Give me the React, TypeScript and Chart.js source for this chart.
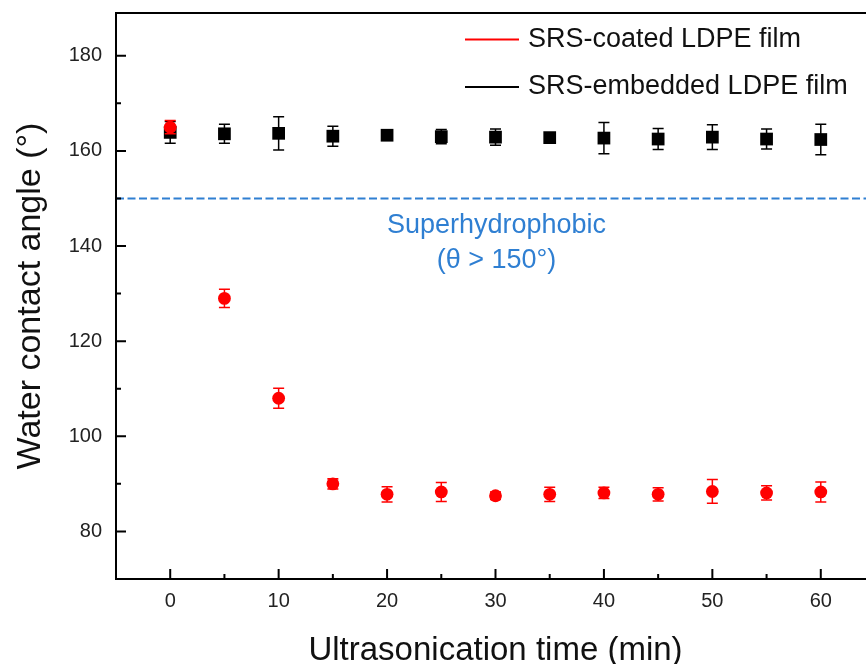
import React, { useEffect, useRef } from "react";
import { Chart, registerables } from "chart.js";

Chart.register(...registerables);

// ---- data ----
const times = [0, 5, 10, 15, 20, 25, 30, 35, 40, 45, 50, 55, 60];
const coatedAngle = [165.0, 129.0, 108.0, 90.0, 87.8, 88.3, 87.5, 87.8, 88.1, 87.8, 88.4, 88.1, 88.3];
const coatedErr = [1.4, 1.9, 2.1, 1.1, 1.6, 2.0, 0.8, 1.5, 1.2, 1.4, 2.5, 1.5, 2.1];
const embeddedAngle = [163.9, 163.6, 163.7, 163.1, 163.3, 163.0, 162.9, 162.8, 162.7, 162.5, 162.9, 162.5, 162.4];
const embeddedErr = [2.3, 2.0, 3.5, 2.1, 0.6, 1.5, 1.7, 0.5, 3.3, 2.2, 2.6, 2.1, 3.2];
const xTickValues = [0, 10, 20, 30, 40, 50, 60];
const yTickValues = [80, 100, 120, 140, 160, 180];
const xRange = [-5, 65];
const yRange = [70, 189];
const thresholdValue = 150;
const seriesNames = ["SRS-coated LDPE film", "SRS-embedded LDPE film"];
const annotationLines = ["Superhydrophobic", "(\u03b8 > 150\u00b0)"];

const RED = "#ff0000";
const BLACK = "#000000";
const BLUE = "#2f7fd2";
const FONT = "'Liberation Sans', Arial, Helvetica, sans-serif";

const CANVAS_W = 900;
const CANVAS_H = 680;

function midpoints(arr: number[]) {
  const out: number[] = [];
  for (let i = 0; i < arr.length - 1; i++) out.push((arr[i] + arr[i + 1]) / 2);
  return out;
}

const errorBarPlugin = {
  id: "errorBars",
  beforeDatasetDraw(chart: any, args: any) {
    const i = args.index;
    if (i > 1) return;
    const vals = i === 0 ? coatedAngle : embeddedAngle;
    const errs = i === 0 ? coatedErr : embeddedErr;
    const color = i === 0 ? RED : BLACK;
    const ctx = chart.ctx;
    const xs = chart.scales.x;
    const ys = chart.scales.y;
    ctx.save();
    ctx.strokeStyle = color;
    ctx.lineWidth = 1.5;
    times.forEach((t, k) => {
      const x = xs.getPixelForValue(t);
      const y1 = ys.getPixelForValue(vals[k] + errs[k]);
      const y2 = ys.getPixelForValue(vals[k] - errs[k]);
      const cw = 5.5;
      ctx.beginPath();
      ctx.moveTo(x, y1);
      ctx.lineTo(x, y2);
      ctx.moveTo(x - cw, y1);
      ctx.lineTo(x + cw, y1);
      ctx.moveTo(x - cw, y2);
      ctx.lineTo(x + cw, y2);
      ctx.stroke();
    });
    ctx.restore();
  },
};

const framePlugin = {
  id: "frameTicks",
  afterDraw(chart: any) {
    const ctx = chart.ctx;
    const { left, right, top, bottom } = chart.chartArea;
    const xs = chart.scales.x;
    const ys = chart.scales.y;
    ctx.save();
    ctx.strokeStyle = "#000";
    ctx.lineWidth = 2;
    ctx.strokeRect(left, top, right - left, bottom - top);
    ctx.beginPath();
    for (const v of xTickValues) {
      const x = xs.getPixelForValue(v);
      ctx.moveTo(x, bottom);
      ctx.lineTo(x, bottom - 10);
    }
    for (const v of midpoints(xTickValues)) {
      const x = xs.getPixelForValue(v);
      ctx.moveTo(x, bottom);
      ctx.lineTo(x, bottom - 5);
    }
    for (const v of yTickValues) {
      const y = ys.getPixelForValue(v);
      ctx.moveTo(left, y);
      ctx.lineTo(left + 10, y);
    }
    for (const v of midpoints(yTickValues)) {
      const y = ys.getPixelForValue(v);
      ctx.moveTo(left, y);
      ctx.lineTo(left + 5, y);
    }
    ctx.stroke();

    // legend
    const legendColors = [RED, BLACK];
    const legendY = [39.5, 87];
    ctx.font = `27px ${FONT}`;
    ctx.textBaseline = "middle";
    ctx.textAlign = "left";
    seriesNames.forEach((name, i) => {
      ctx.strokeStyle = legendColors[i];
      ctx.lineWidth = 2;
      ctx.beginPath();
      ctx.moveTo(465, legendY[i]);
      ctx.lineTo(519, legendY[i]);
      ctx.stroke();
      ctx.fillStyle = "#111";
      ctx.fillText(name, 528, legendY[i]);
    });

    // annotation
    const cx = (left + right) / 2 + 1;
    const y0 = ys.getPixelForValue(thresholdValue);
    ctx.fillStyle = BLUE;
    ctx.textAlign = "center";
    ctx.font = `27px ${FONT}`;
    ctx.fillText(annotationLines[0], cx, y0 + 27.5);
    ctx.fillText(annotationLines[1], cx, y0 + 62.5);
    ctx.restore();
  },
};

export default function App() {
  const ref = useRef<HTMLCanvasElement | null>(null);

  useEffect(() => {
    if (!ref.current) return;
    const chart = new Chart(ref.current, {
      type: "scatter",
      data: {
        datasets: [
          {
            label: seriesNames[0],
            data: times.map((t, i) => ({ x: t, y: coatedAngle[i] })),
            backgroundColor: RED,
            borderColor: RED,
            pointStyle: "circle",
            pointRadius: 6.4,
            pointBorderWidth: 0,
            showLine: false,
          },
          {
            label: seriesNames[1],
            data: times.map((t, i) => ({ x: t, y: embeddedAngle[i] })),
            backgroundColor: BLACK,
            borderColor: BLACK,
            pointStyle: "rect",
            pointRadius: 9,
            pointBorderWidth: 0,
            showLine: false,
          },
          {
            label: "threshold",
            data: xRange.map((x) => ({ x, y: thresholdValue })),
            borderColor: BLUE,
            backgroundColor: BLUE,
            borderWidth: 2,
            borderDash: [8, 3.5],
            pointRadius: 0,
            showLine: true,
          },
        ],
      },
      options: {
        responsive: false,
        animation: false,
        layout: { padding: { top: 13, right: CANVAS_W - 875, left: 0, bottom: 0 } },
        plugins: {
          legend: { display: false },
          tooltip: { enabled: false },
        },
        scales: {
          x: {
            type: "linear",
            min: xRange[0],
            max: xRange[1],
            afterBuildTicks: (scale: any) => {
              scale.ticks = xTickValues.map((v) => ({ value: v }));
            },
            afterFit: (scale: any) => {
              scale.height = CANVAS_H - 579;
              scale.paddingLeft = 0;
              scale.paddingRight = 0;
            },
            grid: { display: false, drawTicks: false },
            border: { display: false },
            ticks: {
              padding: 10,
              color: "#222",
              font: { family: FONT, size: 20 },
              maxRotation: 0,
            },
            title: {
              display: true,
              text: "Ultrasonication time (min)",
              color: "#111",
              font: { family: FONT, size: 33, lineHeight: 1 },
              padding: { top: 0, bottom: 13 },
            },
          },
          y: {
            type: "linear",
            min: yRange[0],
            max: yRange[1],
            afterBuildTicks: (scale: any) => {
              scale.ticks = yTickValues.map((v) => ({ value: v }));
            },
            afterFit: (scale: any) => {
              scale.width = 116;
              scale.paddingTop = 0;
              scale.paddingBottom = 0;
            },
            grid: { display: false, drawTicks: false },
            border: { display: false },
            ticks: {
              padding: 14,
              color: "#222",
              font: { family: FONT, size: 20 },
            },
            title: {
              display: true,
              text: "Water contact angle (\u00b0)",
              color: "#111",
              font: { family: FONT, size: 34, lineHeight: 1 },
              padding: { top: 14, bottom: 0 },
            },
          },
        },
      },
      plugins: [errorBarPlugin, framePlugin],
    });
    return () => chart.destroy();
  }, []);

  return (
    <div
      style={{
        position: "fixed",
        left: 0,
        top: 0,
        width: 866,
        height: 664,
        overflow: "hidden",
        background: "#fff",
      }}
    >
      <canvas
        ref={ref}
        width={CANVAS_W}
        height={CANVAS_H}
        style={{ display: "block", width: CANVAS_W, height: CANVAS_H }}
      />
    </div>
  );
}
